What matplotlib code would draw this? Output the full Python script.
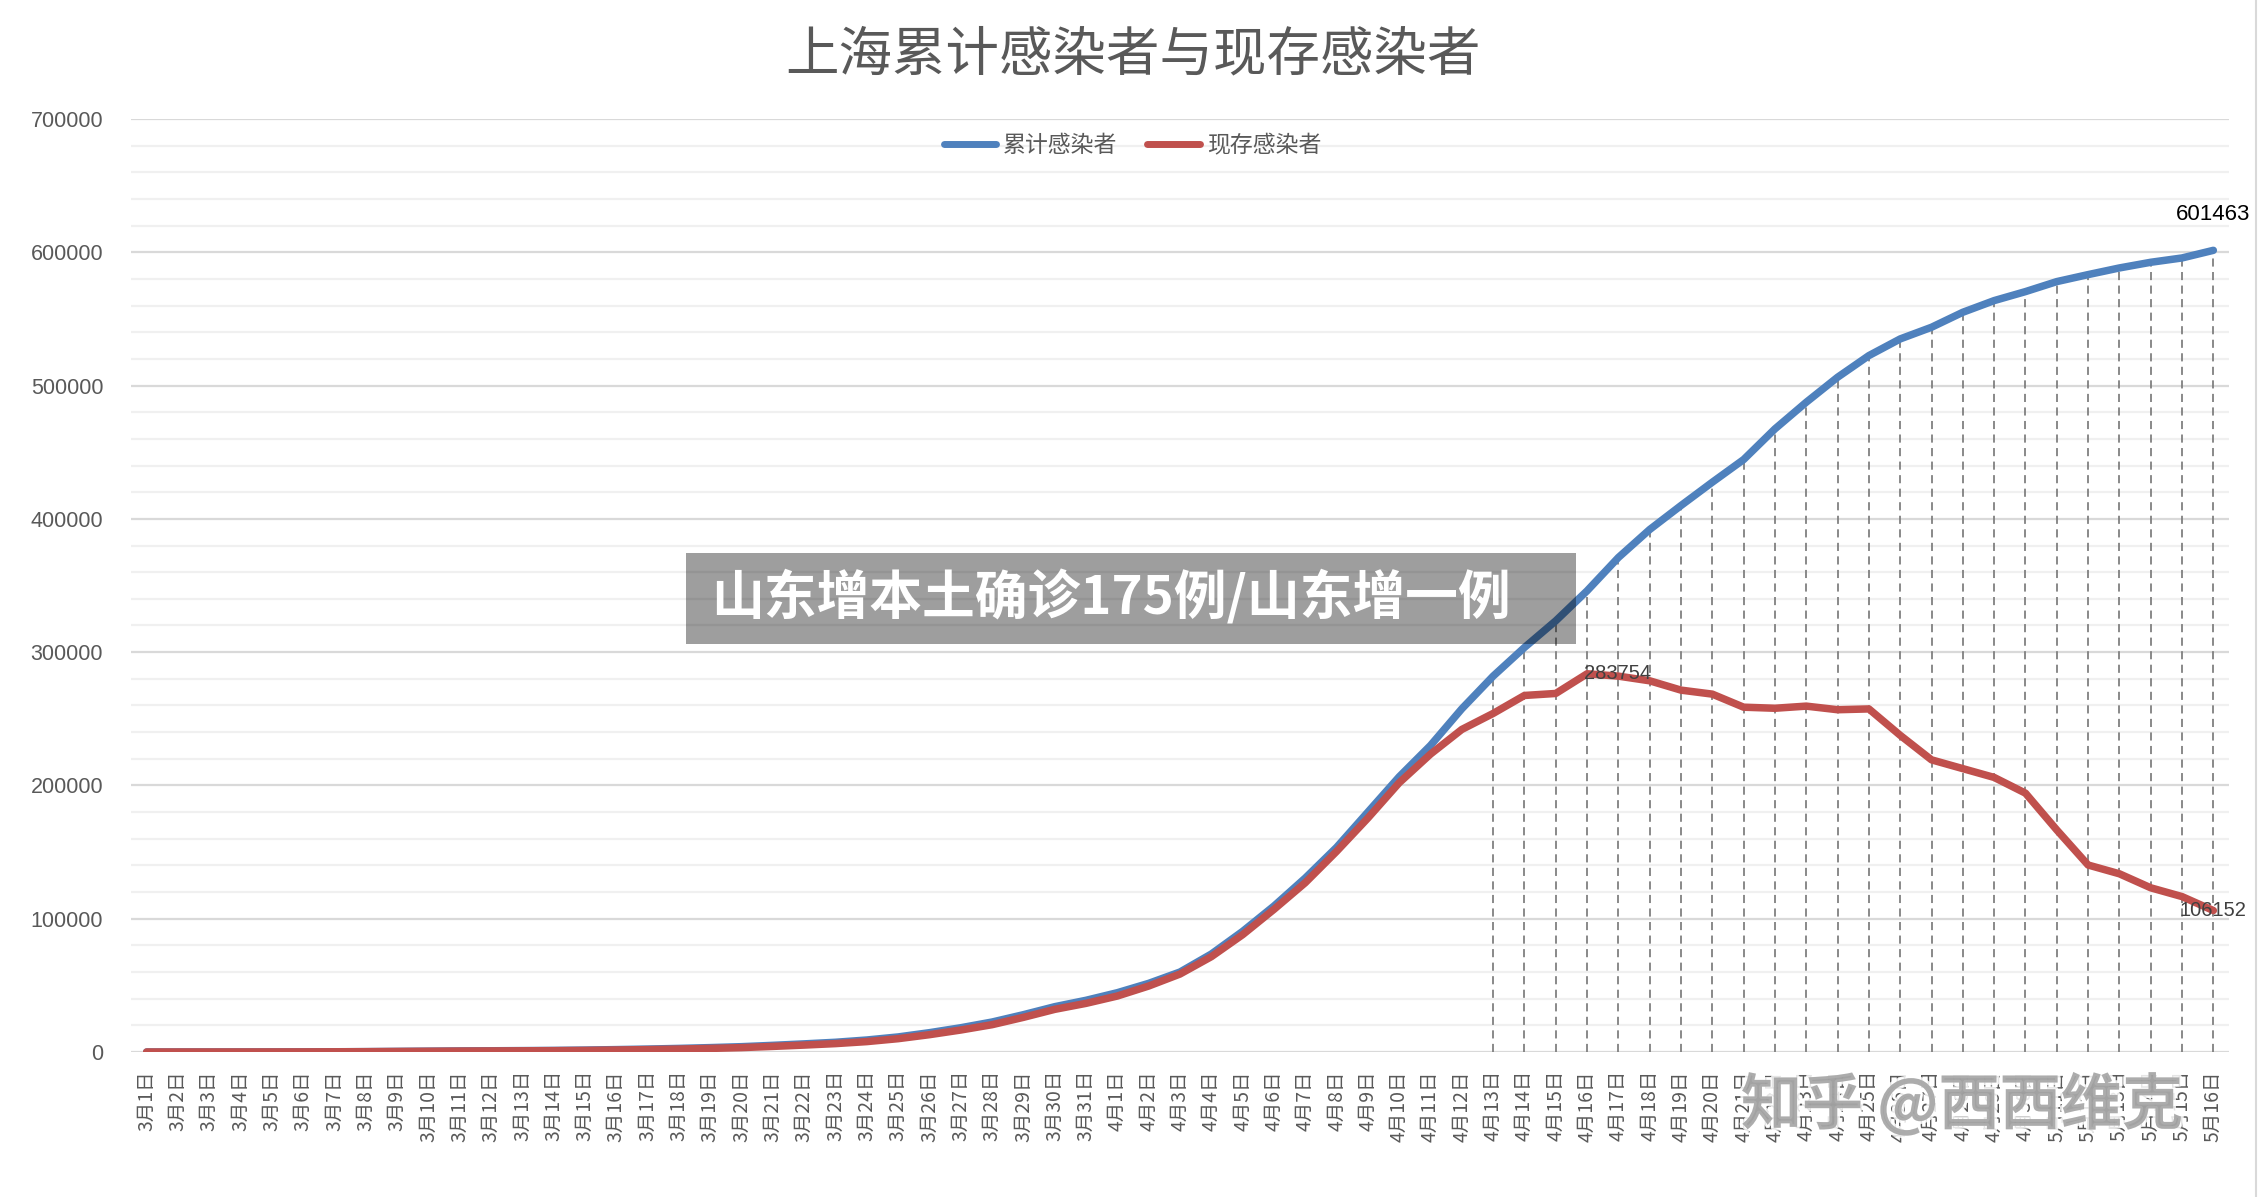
import matplotlib
matplotlib.use('Agg')
import matplotlib.pyplot as plt
import matplotlib.patheffects as pe
from matplotlib.patches import Rectangle
from matplotlib.lines import Line2D
import numpy as np

plt.rcParams['font.family'] = ['Noto Sans CJK SC', 'DejaVu Sans']

# categories: 3/1-3/31, 4/1-4/30, 5/11-5/16
months = [3, 4, 5]
days = [list(range(1, 32)), list(range(1, 31)), list(range(11, 17))]
dates = [f'{m}月{d}日' for m, ds in zip(months, days) for d in ds]

# 累计感染者
total = [2, 12, 18, 35, 58, 95, 170, 280, 450, 620,
         800, 920, 1050, 1200, 1450, 1800, 2200, 2700, 3300, 4000,
         5000, 6100, 7300, 9000, 11300, 14500, 18200, 22500, 28000, 34000,
         38800, 44500, 51500, 60000, 73500, 90500, 109500, 130500, 153500, 180000,
         206500, 230000, 257500, 282000, 303500, 323500, 346000, 371000, 392000, 410000,
         427500, 444500, 467500, 487500, 506250, 522500, 535000, 543750, 555000, 563750,
         570500, 578000, 583250, 588250, 592500, 595750, 601463]

# 现存感染者
current = [2, 10, 15, 30, 50, 80, 150, 250, 400, 550,
           700, 800, 900, 1000, 1200, 1500, 1800, 2200, 2700, 3300,
           4200, 5200, 6300, 7800, 10000, 13000, 16500, 20500, 26000, 32000,
           36500, 42000, 49500, 58500, 71500, 88000, 107000, 127000, 150500, 175500,
           202000, 223500, 242000, 254000, 267500, 269000, 283754, 282000, 278500, 271500,
           268500, 258700, 257900, 259500, 256800, 257400, 237600, 219200, 212600, 206000,
           194200, 166600, 140300, 133700, 123200, 116600, 106152]

drop_start = 43  # dashed drop lines from 4月13日 onward

blue = '#4f81bd'
red = '#c0504d'

fig = plt.figure(figsize=(22.65, 11.97), dpi=100)
ax = fig.add_axes([131/2265, 1 - 1052/1197, (2229-131)/2265, (1052-119)/1197])

x = np.arange(len(dates))

ax.set_ylim(0, 700000)
ax.set_xlim(-0.5, len(dates) - 0.5)
ax.set_yticks(np.arange(0, 700001, 100000))
ax.set_yticks(np.arange(0, 700001, 20000), minor=True)
ax.grid(axis='y', which='major', color='#d9d9d9', lw=1.6, zorder=0)
ax.grid(axis='y', which='minor', color='#f0f0f0', lw=1.6, zorder=0)
ax.set_axisbelow(True)
for s in ax.spines.values():
    s.set_visible(False)
ax.tick_params(axis='both', which='both', length=0)
ax.tick_params(axis='y', pad=20)
ax.tick_params(axis='x', pad=13)
ax.set_yticklabels([str(v) for v in range(0, 700001, 100000)],
                   fontsize=15.5, color='#595959', family='Liberation Sans')
ax.set_xticks(x)
ax.set_xticklabels(dates, rotation=90, fontsize=14, color='#595959', va='top')

ax.vlines(x[drop_start:], 0, total[drop_start:], colors='#808080', lw=1.3,
          linestyles=(0, (4.5, 3)), zorder=2)
ax.plot(x, total, color=blue, lw=5.4, solid_capstyle='round', solid_joinstyle='round', zorder=3)
ax.plot(x, current, color=red, lw=5.4, solid_capstyle='round', solid_joinstyle='round', zorder=4)

ax.annotate(str(total[-1]), (x[-1], total[-1]), xytext=(0, 26), textcoords='offset points',
            ha='center', va='center', fontsize=16, color='black', family='Liberation Sans', zorder=6)
peak = int(np.argmax(current))
ax.annotate(str(current[peak]), (x[peak], current[peak]), xytext=(-2, 0), textcoords='offset points',
            ha='left', va='center', fontsize=14.5, color='#404040', family='Liberation Sans', zorder=6)
ax.annotate(str(current[-1]), (x[-1], current[-1]), ha='center', va='center',
            fontsize=14.5, color='#404040', family='Liberation Sans', zorder=6)

fig.text(0.5, 1 - 55/1197, '上海累计感染者与现存感染者', ha='center', va='center',
         fontsize=38.5, color='#595959')

handles = [Line2D([], [], color=blue, lw=5, solid_capstyle='round'),
           Line2D([], [], color=red, lw=5, solid_capstyle='round')]
fig.legend(handles, ['累计感染者', '现存感染者'], loc='center', bbox_to_anchor=(0.5, 1 - 146/1197),
           ncol=2, frameon=False, fontsize=16.5, handlelength=2.3, handletextpad=0.3,
           columnspacing=1.3, labelcolor='#595959')

# overlay banner
fig.patches.append(Rectangle((686/2265, 1 - 644/1197), 890/2265, 91/1197, transform=fig.transFigure,
                             facecolor='black', alpha=0.38, edgecolor='none', zorder=10))
fig.text(711/2265, 1 - 598/1197, '山东增本土确诊175例/山东增一例', ha='left', va='center',
         fontsize=38, fontweight='bold', color='white', zorder=11)

# watermark
fig.text(1962/2265, 1 - 1105/1197, '知乎 @西西维克', ha='center', va='center', fontsize=44,
         fontweight='bold', color='#a0a0a0', alpha=0.85, zorder=12,
         path_effects=[pe.withStroke(linewidth=4, foreground='white')])

fig.add_artist(Line2D([2256/2265, 2256/2265], [0, 1], transform=fig.transFigure, color='#d9d9d9', lw=1.5))

fig.savefig('out.png', dpi=100)
